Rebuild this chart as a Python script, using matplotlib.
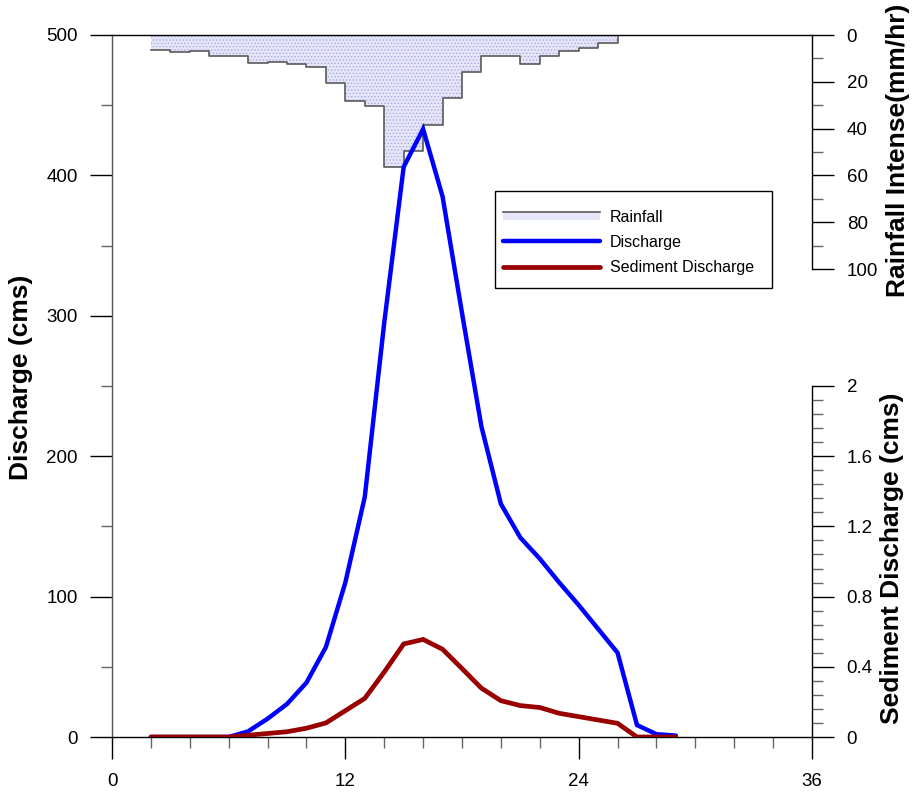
import numpy as np
import matplotlib
matplotlib.use("Agg")
import matplotlib.pyplot as plt
from matplotlib.ticker import MultipleLocator, FixedLocator
from matplotlib.legend_handler import HandlerBase
from matplotlib.patches import Rectangle
from matplotlib.lines import Line2D

plt.rcParams['font.family'] = ['Liberation Sans', 'DejaVu Sans']
plt.rcParams['hatch.color'] = '#a8a8e0'
plt.rcParams['hatch.linewidth'] = 0.6

# ---------------- data ----------------
hours = [2, 3, 4, 5, 6, 7, 8, 9, 10, 11, 12, 13, 14, 15, 16, 17, 18, 19, 20,
         21, 22, 23, 24, 25, 26, 27, 28, 29]
discharge = [0, 0, 0, 0, 0, 4, 13, 23.5, 38.7, 64, 110, 171, 295, 406, 433,
             385, 302, 221, 166, 142, 127, 110, 94, 77, 60, 8.5, 2, 1]
sediment = [0, 0, 0, 0, 0, 0.01, 0.02, 0.03, 0.05, 0.08, 0.15, 0.22, 0.37,
            0.53, 0.556, 0.50, 0.39, 0.278, 0.207, 0.179, 0.168, 0.135, 0.116,
            0.097, 0.078, 0, 0, 0]
rain_edges = [2, 3, 4, 5, 6, 7, 8, 9, 10, 11, 12, 13, 14, 15, 16, 17, 18, 19,
              20, 21, 22, 23, 24, 25, 26]
rainfall = [6.4, 7.4, 7.0, 8.8, 8.8, 12.1, 11.7, 12.2, 13.5, 20.7, 28.2, 30.5,
            56.3, 49.4, 38.5, 26.8, 15.9, 9.0, 9.0, 12.5, 8.8, 6.8, 5.4, 3.3]

x_ticks = [0, 12, 24, 36]
q_ticks = [0, 100, 200, 300, 400, 500]
rain_ticks = [0, 20, 40, 60, 80, 100]
sed_ticks = [0, 0.4, 0.8, 1.2, 1.6, 2.0]
sed_tick_labels = ['0', '0.4', '0.8', '1.2', '1.6', '2']

# ---------------- figure ----------------
W, H = 914, 796
fig = plt.figure(figsize=(W / 100, H / 100), dpi=100)
ax = fig.add_axes([112 / W, 59 / H, 700 / W, 702 / H])
ax_rain = ax.twinx()
ax_sed = ax.twinx()
ax_rain.set_zorder(0)
ax.set_zorder(1)
ax_sed.set_zorder(2)
ax.patch.set_visible(False)
ax_sed.patch.set_visible(False)

tick_fs = 13.5
lab_fs = 19
maj_len, min_len = 16, 8

# rainfall (hanging from top)
redges = np.array(rain_edges, dtype=float)
rvals = np.array(rainfall, dtype=float)
rain_color = '#e6e6fa'
ax_rain.fill_between(redges, np.append(rvals, rvals[-1]), 0, step='post',
                     facecolor=rain_color, edgecolor='none', hatch='.....',
                     linewidth=0)
sx = np.append(np.repeat(redges, 2)[1:-1], redges[-1])
sy = np.append(np.repeat(rvals, 2), 0)
ax_rain.plot(sx, sy, color='#5a5a5a', lw=1.2)
ax_rain.set_ylim(300, 0)
ax_rain.set_xlim(0, 36)

# discharge
ax.plot(hours, discharge, color='#0000ff', lw=3.2, solid_capstyle='round',
        solid_joinstyle='miter')
ax.set_xlim(0, 36)
ax.set_ylim(0, 500)

# sediment
ax_sed.plot(hours, sediment, color='#990000', lw=3.4, solid_capstyle='round',
            solid_joinstyle='miter')
ax_sed.set_ylim(0, 4)
ax_sed.set_xlim(0, 36)

# ---------------- spines ----------------
ax.spines['right'].set_visible(False)
for a in (ax_rain, ax_sed):
    for s in ['top', 'bottom', 'left']:
        a.spines[s].set_visible(False)
ax.spines['left'].set_color('#555555')
for s in ['top', 'bottom']:
    ax.spines[s].set_color('black')
for s in ax.spines.values():
    s.set_linewidth(1.0)
ax_rain.spines['right'].set_bounds(0, 100)
ax_sed.spines['right'].set_bounds(0, 2)
ax_rain.spines['right'].set_linewidth(1.0)
ax_sed.spines['right'].set_linewidth(1.0)

# ---------------- ticks ----------------
ax.set_xticks(x_ticks)
ax.set_xticklabels([str(t) for t in x_ticks])
ax.xaxis.set_minor_locator(MultipleLocator(2))
ax.set_yticks(q_ticks)
ax.set_yticklabels([str(t) for t in q_ticks])
ax.yaxis.set_minor_locator(MultipleLocator(50))
ax.tick_params(axis='both', which='major', direction='out', length=maj_len,
               width=1.0, color='black', labelsize=tick_fs)
ax.tick_params(axis='both', which='minor', direction='out', length=min_len,
               width=1.0, color='#666666')
ax.tick_params(axis='y', which='major', pad=8.5)
ax.tick_params(axis='x', which='major', pad=10)
ax.tick_params(top=False, right=False, which='both')

ax_rain.set_yticks(rain_ticks)
ax_rain.set_yticklabels([str(t) for t in rain_ticks])
ax_rain.yaxis.set_minor_locator(FixedLocator([10, 30, 50, 70, 90]))
ax_rain.tick_params(axis='y', which='major', direction='out', length=maj_len,
                    width=1.0, color='black', labelsize=tick_fs, pad=9)
ax_rain.tick_params(axis='y', which='minor', direction='out', length=min_len,
                    width=1.0, color='#666666')
ax_rain.tick_params(axis='x', which='both', bottom=False, top=False,
                    labelbottom=False)

ax_sed.set_yticks(sed_ticks)
ax_sed.set_yticklabels(sed_tick_labels)
ax_sed.yaxis.set_minor_locator(FixedLocator(
    [v for v in np.arange(0, 2.0001, 0.08) if v not in sed_ticks]))
ax_sed.tick_params(axis='y', which='major', direction='out', length=maj_len,
                   width=1.0, color='black', labelsize=tick_fs, pad=9)
ax_sed.tick_params(axis='y', which='minor', direction='out', length=min_len,
                   width=1.0, color='#666666')
ax_sed.tick_params(axis='x', which='both', bottom=False, top=False,
                   labelbottom=False)

# ---------------- labels ----------------
ax.set_ylabel('Discharge (cms)', fontsize=lab_fs, fontweight='bold')
ax.yaxis.set_label_coords(-0.113, 0.512)
ax_rain.set_ylabel('Rainfall Intense(mm/hr)', fontsize=lab_fs,
                   fontweight='bold')
ax_rain.yaxis.set_label_coords(1.106, 1 - (150 - 35) / 702)
ax_sed.set_ylabel('Sediment Discharge (cms)', fontsize=lab_fs,
                  fontweight='bold')
ax_sed.yaxis.set_label_coords(1.097, (737 - 558) / 702)


# ---------------- legend ----------------
class HandlerRain(HandlerBase):
    def create_artists(self, legend, orig_handle, xdescent, ydescent, width,
                       height, fontsize, trans):
        h = height * 0.75
        y0 = -ydescent + (height - h) / 2
        r = Rectangle((-xdescent, y0), width, h, facecolor=rain_color,
                      edgecolor='none', hatch='.....', transform=trans)
        ln = Line2D([-xdescent, -xdescent + width], [y0 + h, y0 + h],
                    color='#5a5a5a', lw=1.2, transform=trans)
        return [r, ln]


# legend frame (drawn separately for exact placement)
fig.patches.append(Rectangle((495 / W, 1 - 288 / H), 277 / W, 97 / H,
                             transform=fig.transFigure, facecolor='white',
                             edgecolor='black', linewidth=1.0, zorder=5))

rain_handle = Rectangle((0, 0), 1, 1)
q_handle = Line2D([], [], color='#0000ff', lw=3.2, solid_capstyle='round')
s_handle = Line2D([], [], color='#990000', lw=3.4, solid_capstyle='round')
leg = fig.legend([rain_handle, q_handle, s_handle],
                 ['Rainfall', 'Discharge', 'Sediment Discharge'],
                 handler_map={Rectangle: HandlerRain()},
                 loc='upper left', bbox_to_anchor=(503 / W, 1 - 209.5 / H),
                 bbox_transform=fig.transFigure, borderaxespad=0,
                 fontsize=11.5, handlelength=6.1, handletextpad=0.6,
                 borderpad=0, labelspacing=0.65, frameon=False)
leg.set_zorder(6)

fig.savefig('out.png', dpi=100)
